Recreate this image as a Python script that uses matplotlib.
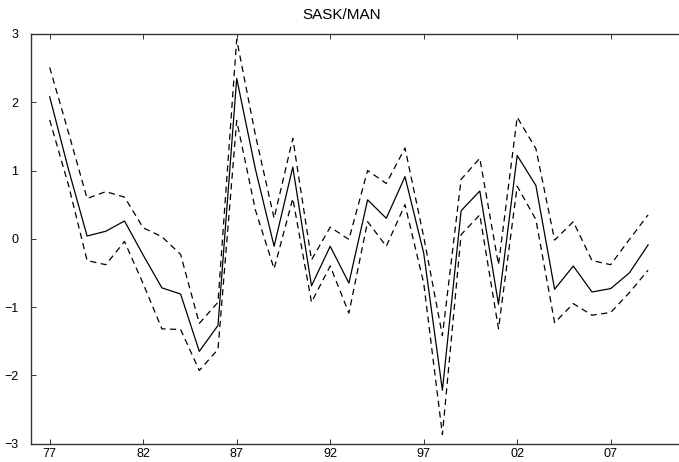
import numpy as np
import matplotlib
matplotlib.use("Agg")
import matplotlib.pyplot as plt

plt.rcParams['font.family'] = ['Liberation Sans', 'DejaVu Sans']

# index estimate with upper/lower bands, 1977-2009
years = np.arange(1977, 2010)
estimate = [2.08, 1.02, 0.04, 0.11, 0.26, -0.24, -0.72, -0.81, -1.65, -1.27,
            2.35, 1.02, -0.11, 1.05, -0.69, -0.11, -0.65, 0.57, 0.30, 0.91,
            -0.21, -2.22, 0.41, 0.70, -0.96, 1.22, 0.78, -0.74, -0.40, -0.78,
            -0.73, -0.50, -0.09]
upper = [2.51, 1.56, 0.59, 0.69, 0.61, 0.16, 0.03, -0.23, -1.24, -0.93,
         2.92, 1.52, 0.30, 1.47, -0.31, 0.17, -0.01, 1.00, 0.81, 1.33,
         0.03, -1.42, 0.87, 1.18, -0.38, 1.78, 1.32, -0.02, 0.25, -0.32,
         -0.38, -0.01, 0.35]
lower = [1.74, 0.79, -0.32, -0.38, -0.04, -0.66, -1.32, -1.33, -1.93, -1.62,
         1.73, 0.42, -0.44, 0.59, -0.93, -0.40, -1.09, 0.25, -0.11, 0.50,
         -0.65, -2.87, 0.06, 0.35, -1.32, 0.77, 0.28, -1.23, -0.95, -1.12,
         -1.08, -0.79, -0.46]
tick_years = [1977, 1982, 1987, 1992, 1997, 2002, 2007]
tick_labels = ['77', '82', '87', '92', '97', '02', '07']

fig = plt.figure(figsize=(6.79, 4.62), dpi=100)
ax = fig.add_axes([31 / 679, 18.5 / 462, 654.5 / 679, 409.5 / 462])

ax.plot(years, estimate, color='black', lw=0.9)
ax.plot(years, upper, color='black', lw=0.9, linestyle=(0, (5, 3.5)))
ax.plot(years, lower, color='black', lw=0.9, linestyle=(0, (5, 3.5)))

ax.set_xlim(1976, 2011)
ax.set_ylim(-3, 3)
ax.set_xticks(tick_years)
ax.set_xticklabels(tick_labels)
ax.set_yticks(range(-3, 4))
ax.tick_params(direction='in', length=3.5, width=0.7, labelsize=9,
               top=True, right=True, color='#333333')
ax.tick_params(axis='x', pad=3)
ax.tick_params(axis='y', pad=9)
for s in ax.spines.values():
    s.set_color('#333333')
    s.set_linewidth(1.0)

ax.set_title('SASK/MAN', fontsize=11, pad=11, x=0.474)

fig.savefig('out.png', dpi=100)
